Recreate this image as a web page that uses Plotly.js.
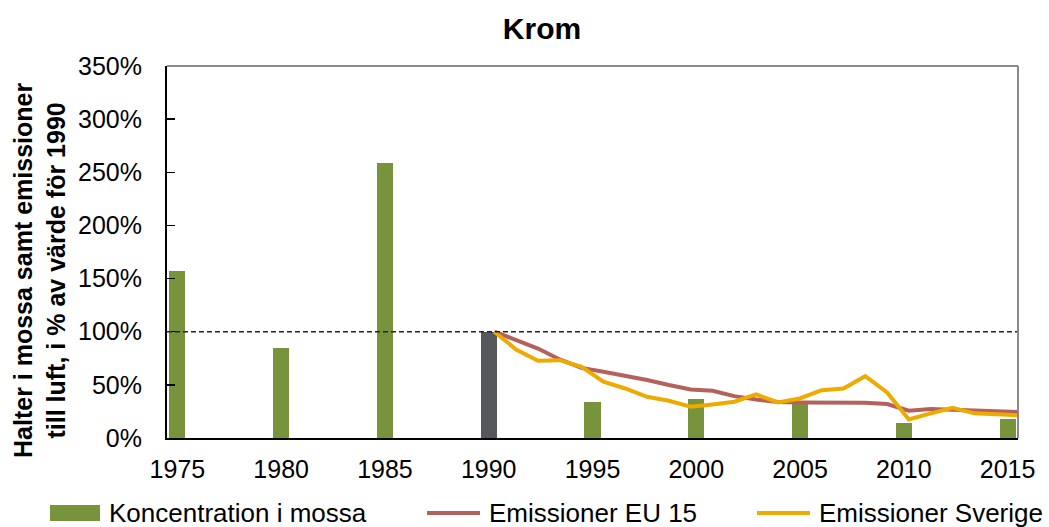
<!DOCTYPE html>
<html><head><meta charset="utf-8">
<script src="https://cdn.plot.ly/plotly-3.0.1.min.js"></script>
<style>html,body{margin:0;padding:0;background:#fff}#chart{width:1049px;height:527px}</style>
</head><body><div id="chart"></div>
<script>
// ---- data ----
const mossYears = [1975, 1980, 1985, 1990, 1995, 2000, 2005, 2010, 2015];
const mossValues = [157, 85, 259, 100, 34, 37, 32.5, 14.4, 18.1];
const emissionYears = [1990, 1991, 1992, 1993, 1994, 1995, 1996, 1997, 1998, 1999, 2000, 2001, 2002,
                       2003, 2004, 2005, 2006, 2007, 2008, 2009, 2010, 2011, 2012, 2013, 2014];
const emissionsEU15 = [100, 92, 84.2, 73.9, 66, 62.3, 58.5, 54.5, 49.8, 45.7, 44.4, 39.4, 36.3,
                       33.8, 33.5, 33.2, 33.5, 33.2, 31.9, 25.7, 27.2, 26.3, 25.7, 25, 24.4];
const emissionsSverige = [100, 83.3, 72.6, 73.2, 67, 52.9, 46.6, 38.8, 35, 29.4, 31.6, 34.1, 41,
                          33.5, 37.2, 45, 46.6, 58.2, 42.9, 17.5, 23.2, 28.5, 23.2, 22.5, 21.3];
const baseYear = 1990;
const baseLevel = 100;
const xTickYears = [1975, 1980, 1985, 1990, 1995, 2000, 2005, 2010, 2015];
const yTickValues = [0, 50, 100, 150, 200, 250, 300, 350];
const seriesNames = ["Koncentration i mossa", "Emissioner EU 15", "Emissioner Sverige"];
const chartTitle = "Krom";
const yTitle = "Halter i mossa samt emissioner<br>till luft, i % av värde för 1990";

// ---- style ----
const GREEN = "#77933C", GREY = "#55575C", BROWN = "#B5615B", ORANGE = "#EFAA00";
const FONT = "Liberation Sans, Arial, Helvetica, sans-serif";
const W = 1049, H = 527;
const plotL = 167, plotR = 1018, plotT = 66, plotB = 438;
const px2x = p => (p - plotL) / (plotR - plotL);
const py2y = p => (plotB - p) / (plotB - plotT);

const traces = [
  {
    type: "bar", name: seriesNames[0], x: mossYears, y: mossValues, width: 0.78,
    marker: { color: mossYears.map(y => y === baseYear ? GREY : GREEN), line: { width: 0 } },
    hoverinfo: "x+y"
  },
  {
    type: "scatter", mode: "lines", name: seriesNames[1], x: emissionYears, y: emissionsEU15,
    xaxis: "x2", yaxis: "y", line: { color: BROWN, width: 4 }
  },
  {
    type: "scatter", mode: "lines", name: seriesNames[2], x: emissionYears, y: emissionsSverige,
    xaxis: "x2", yaxis: "y", line: { color: ORANGE, width: 4 }
  }
];

const legendItems = [
  { kind: "rect", color: GREEN, x0: 50, x1: 100, tx: 107, text: seriesNames[0] },
  { kind: "line", color: BROWN, x0: 427, x1: 480, tx: 487, text: seriesNames[1] },
  { kind: "line", color: ORANGE, x0: 757, x1: 810, tx: 817, text: seriesNames[2] }
];
const legendY = 513;

const shapes = [
  { type: "line", xref: "paper", yref: "y", x0: 0, x1: 1, y0: baseLevel, y1: baseLevel,
    line: { color: "#222", width: 1.4, dash: "5px,3px" }, layer: "above" },
  { type: "line", xref: "paper", yref: "paper", x0: 0, x1: 1, y0: 1, y1: 1,
    line: { color: "#8A8A8A", width: 2 }, layer: "above" },
  { type: "line", xref: "paper", yref: "paper", x0: 1, x1: 1, y0: 0, y1: 1,
    line: { color: "#8A8A8A", width: 2 }, layer: "above" }
];
const annotations = [
  { xref: "paper", yref: "paper", x: px2x(39), y: py2y(271), text: "<b>" + yTitle + "</b>",
    textangle: -90, showarrow: false, xanchor: "center", yanchor: "middle",
    font: { family: FONT, size: 25, color: "#000" } }
];
legendItems.forEach(it => {
  if (it.kind === "rect") {
    shapes.push({ type: "rect", xref: "paper", yref: "paper", x0: px2x(it.x0), x1: px2x(it.x1),
      y0: py2y(legendY + 8), y1: py2y(legendY - 8), fillcolor: it.color, line: { width: 0 } });
  } else {
    shapes.push({ type: "line", xref: "paper", yref: "paper", x0: px2x(it.x0), x1: px2x(it.x1),
      y0: py2y(legendY), y1: py2y(legendY), line: { color: it.color, width: 4 } });
  }
  annotations.push({ xref: "paper", yref: "paper", x: px2x(it.tx), y: py2y(legendY), text: it.text,
    showarrow: false, xanchor: "left", yanchor: "middle", font: { family: FONT, size: 26, color: "#000" } });
});

const layout = {
  width: W, height: H,
  margin: { l: plotL, r: W - plotR, t: plotT, b: H - plotB, pad: 0 },
  paper_bgcolor: "#fff", plot_bgcolor: "#fff",
  font: { family: FONT, size: 25, color: "#000" },
  showlegend: false,
  title: { text: "<b>" + chartTitle + "</b>", font: { family: FONT, size: 30, color: "#000" },
           xref: "container", yref: "container", x: 542 / W, y: 1 - 28.5 / H,
           xanchor: "center", yanchor: "middle" },
  xaxis: { range: [1974.5, 2015.5], tickmode: "array", tickvals: xTickYears, ticktext: xTickYears.map(String),
           ticks: "", showline: true, linecolor: "#000", linewidth: 2, showgrid: false,
           zeroline: false, tickfont: { size: 25 }, ticklabelstandoff: 8 },
  xaxis2: { overlaying: "x", range: [1975, 2014], visible: false, showgrid: false, zeroline: false },
  yaxis: { range: [0, 350], tickmode: "array", tickvals: yTickValues, ticktext: yTickValues.map(v => v + "%"),
           ticks: "inside", ticklen: 8,
           tickwidth: 1.5, tickcolor: "#000", showline: true, linecolor: "#000", linewidth: 2,
           showgrid: false, zeroline: false, tickfont: { size: 25 }, ticklabelstandoff: 18 },
  bargap: 0,
  shapes: shapes,
  annotations: annotations
};

Plotly.newPlot("chart", traces, layout, { displayModeBar: false, staticPlot: true });
</script>
</body></html>
